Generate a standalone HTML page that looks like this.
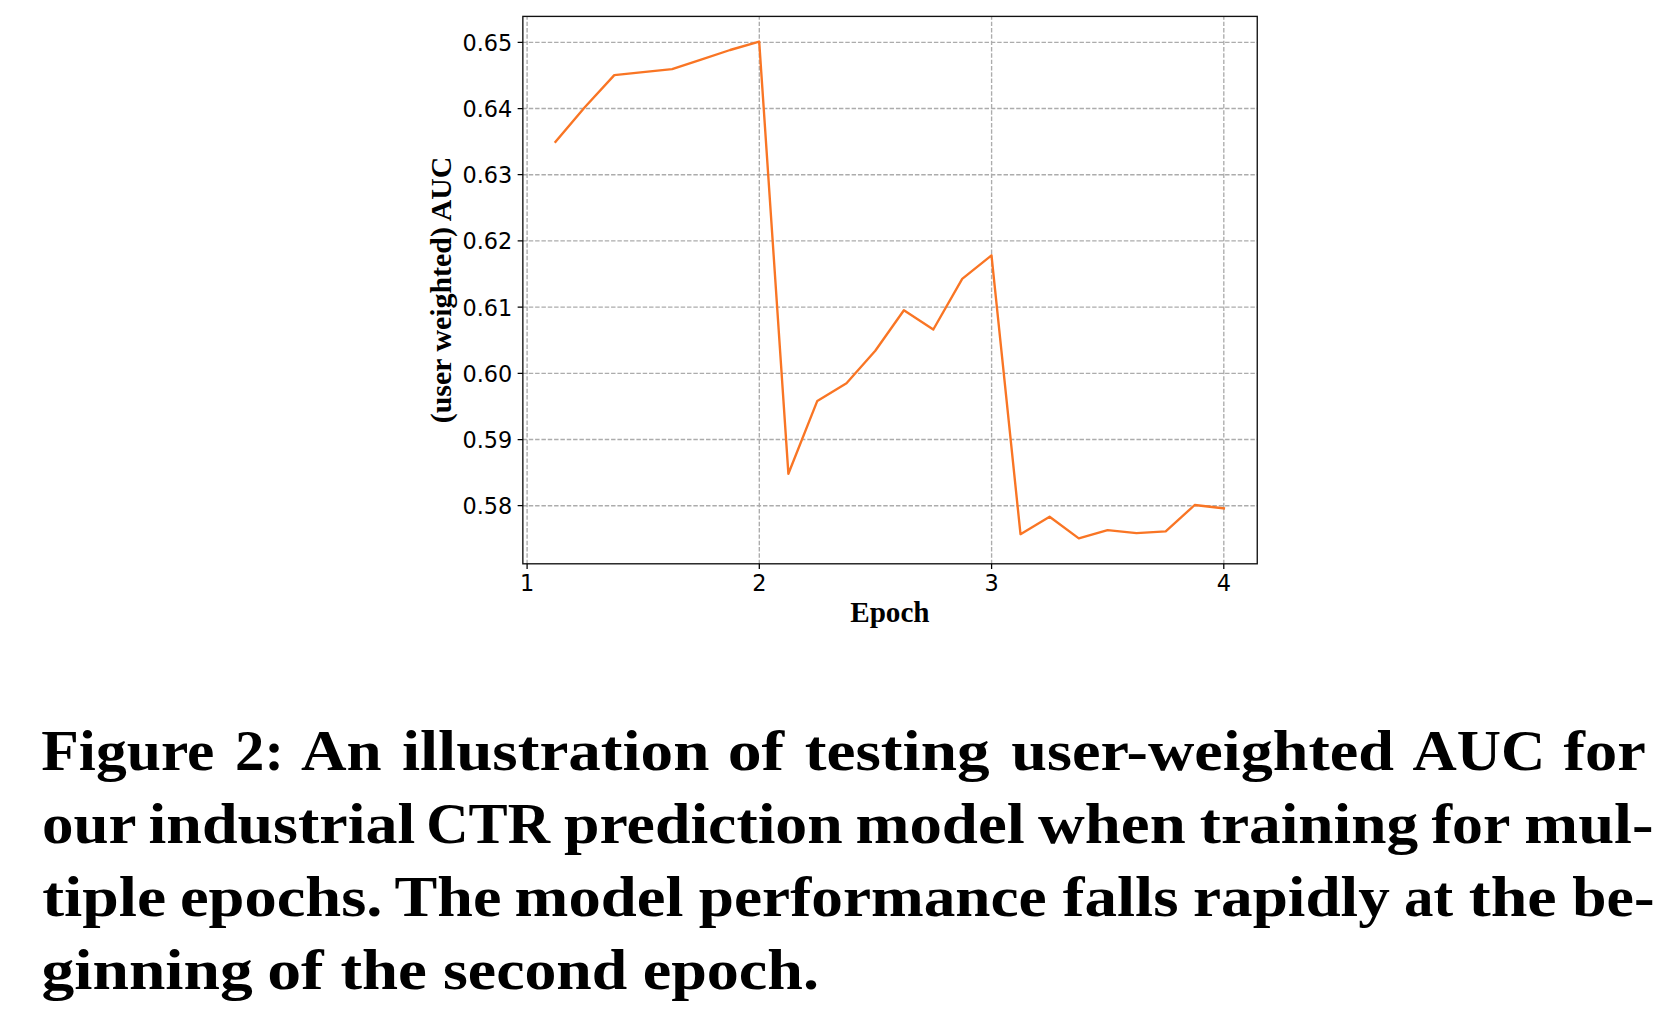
<!DOCTYPE html>
<html lang="en"><head><meta charset="utf-8"><title>Figure 2</title>
<style>html,body{margin:0;padding:0;background:#fff}svg{display:block}.tk{font-family:"DejaVu Sans","Liberation Sans",sans-serif;font-size:22.4px;fill:#000}.lb{font-family:"Liberation Serif",serif;font-weight:bold;font-size:29.3px;fill:#000}.cp{font-family:"Liberation Serif",serif;font-weight:bold;font-size:58px;fill:#000}</style></head><body>
<svg width="1678" height="1027" viewBox="0 0 1678 1027">
<rect width="1678" height="1027" fill="#fff"/>
<path d="M522.85 42.3H1257.2M522.85 108.5H1257.2M522.85 174.7H1257.2M522.85 240.9H1257.2M522.85 307.1H1257.2M522.85 373.3H1257.2M522.85 439.5H1257.2M522.85 505.7H1257.2M527.1 563.75V16.4M759.3 563.75V16.4M991.6 563.75V16.4M1223.8 563.75V16.4" fill="none" stroke="#acacac" stroke-width="1.35" stroke-dasharray="4.45 1.88" stroke-dashoffset="0.4"/>
<path d="M555.5 141.8L585.0 107.0L614.3 75.1L643.0 72.1L672.1 69.2L701.1 59.7L730.1 50.0L759.2 41.6L788.4 473.8L817.3 400.9L846.5 383.2L875.3 350.8L903.9 310.3L933.3 329.5L962.2 278.9L991.5 255.3L1020.5 534.2L1049.6 516.7L1078.8 538.4L1107.6 530.1L1136.5 533.1L1165.7 531.4L1194.7 505.0L1223.9 508.4" fill="none" stroke="#f97524" stroke-width="2.35" stroke-linejoin="round" stroke-linecap="square"/>
<rect x="522.85" y="16.4" width="734.4" height="547.4" fill="none" stroke="#111" stroke-width="1.35"/>
<path d="M522.85 42.3h-5.2M522.85 108.5h-5.2M522.85 174.7h-5.2M522.85 240.9h-5.2M522.85 307.1h-5.2M522.85 373.3h-5.2M522.85 439.5h-5.2M522.85 505.7h-5.2M527.1 563.75v5.2M759.3 563.75v5.2M991.6 563.75v5.2M1223.8 563.75v5.2" fill="none" stroke="#000" stroke-width="1.25"/>
<text class="tk" transform="translate(512.3 50.75) scale(1 1.035)" text-anchor="end">0.65</text>
<text class="tk" transform="translate(512.3 116.95) scale(1 1.035)" text-anchor="end">0.64</text>
<text class="tk" transform="translate(512.3 183.15) scale(1 1.035)" text-anchor="end">0.63</text>
<text class="tk" transform="translate(512.3 249.35) scale(1 1.035)" text-anchor="end">0.62</text>
<text class="tk" transform="translate(512.3 315.55) scale(1 1.035)" text-anchor="end">0.61</text>
<text class="tk" transform="translate(512.3 381.75) scale(1 1.035)" text-anchor="end">0.60</text>
<text class="tk" transform="translate(512.3 447.95) scale(1 1.035)" text-anchor="end">0.59</text>
<text class="tk" transform="translate(512.3 514.15) scale(1 1.035)" text-anchor="end">0.58</text>
<text class="tk" transform="translate(527.1 591.4) scale(1 1.035)" text-anchor="middle">1</text>
<text class="tk" transform="translate(759.3 591.4) scale(1 1.035)" text-anchor="middle">2</text>
<text class="tk" transform="translate(991.6 591.4) scale(1 1.035)" text-anchor="middle">3</text>
<text class="tk" transform="translate(1223.8 591.4) scale(1 1.035)" text-anchor="middle">4</text>
<text class="lb" transform="translate(889.9 621.8) scale(0.995 1.03)" text-anchor="middle">Epoch</text>
<text class="lb" transform="translate(450.9 289.9) rotate(-90) scale(1.02 1)" text-anchor="middle">(user weighted) AUC</text>
<text class="cp" x="41.3" y="770.1" textLength="173.1" lengthAdjust="spacingAndGlyphs">Figure</text>
<text class="cp" x="235.1" y="770.1" textLength="48.8" lengthAdjust="spacingAndGlyphs">2:</text>
<text class="cp" x="301.0" y="770.1" textLength="80.7" lengthAdjust="spacingAndGlyphs">An</text>
<text class="cp" x="401.9" y="770.1" textLength="307.5" lengthAdjust="spacingAndGlyphs">illustration</text>
<text class="cp" x="727.7" y="770.1" textLength="56.5" lengthAdjust="spacingAndGlyphs">of</text>
<text class="cp" x="804.8" y="770.1" textLength="184.8" lengthAdjust="spacingAndGlyphs">testing</text>
<text class="cp" x="1011.3" y="770.1" textLength="382.7" lengthAdjust="spacingAndGlyphs">user-weighted</text>
<text class="cp" x="1412.4" y="770.1" textLength="132.8" lengthAdjust="spacingAndGlyphs">AUC</text>
<text class="cp" x="1563.6" y="770.1" textLength="82.2" lengthAdjust="spacingAndGlyphs">for</text>
<text class="cp" x="42.0" y="843.1" textLength="94.5" lengthAdjust="spacingAndGlyphs">our</text>
<text class="cp" x="148.5" y="843.1" textLength="266.8" lengthAdjust="spacingAndGlyphs">industrial</text>
<text class="cp" x="426.2" y="843.1" textLength="123.8" lengthAdjust="spacingAndGlyphs">CTR</text>
<text class="cp" x="564.0" y="843.1" textLength="278.7" lengthAdjust="spacingAndGlyphs">prediction</text>
<text class="cp" x="855.4" y="843.1" textLength="169.4" lengthAdjust="spacingAndGlyphs">model</text>
<text class="cp" x="1038.0" y="843.1" textLength="147.7" lengthAdjust="spacingAndGlyphs">when</text>
<text class="cp" x="1199.8" y="843.1" textLength="218.4" lengthAdjust="spacingAndGlyphs">training</text>
<text class="cp" x="1431.5" y="843.1" textLength="78.8" lengthAdjust="spacingAndGlyphs">for</text>
<text class="cp" x="1524.3" y="843.1" textLength="129.3" lengthAdjust="spacingAndGlyphs">mul-</text>
<text class="cp" x="42.2" y="916.0" textLength="124.1" lengthAdjust="spacingAndGlyphs">tiple</text>
<text class="cp" x="179.9" y="916.0" textLength="202.6" lengthAdjust="spacingAndGlyphs">epochs.</text>
<text class="cp" x="394.5" y="916.0" textLength="106.9" lengthAdjust="spacingAndGlyphs">The</text>
<text class="cp" x="514.6" y="916.0" textLength="168.8" lengthAdjust="spacingAndGlyphs">model</text>
<text class="cp" x="698.8" y="916.0" textLength="347.9" lengthAdjust="spacingAndGlyphs">performance</text>
<text class="cp" x="1062.8" y="916.0" textLength="115.7" lengthAdjust="spacingAndGlyphs">falls</text>
<text class="cp" x="1193.0" y="916.0" textLength="196.8" lengthAdjust="spacingAndGlyphs">rapidly</text>
<text class="cp" x="1404.0" y="916.0" textLength="49.1" lengthAdjust="spacingAndGlyphs">at</text>
<text class="cp" x="1468.7" y="916.0" textLength="88.0" lengthAdjust="spacingAndGlyphs">the</text>
<text class="cp" x="1572.3" y="916.0" textLength="82.1" lengthAdjust="spacingAndGlyphs">be-</text>
<text class="cp" x="41.5" y="988.9" textLength="211.3" lengthAdjust="spacingAndGlyphs">ginning</text>
<text class="cp" x="267.2" y="988.9" textLength="56.5" lengthAdjust="spacingAndGlyphs">of</text>
<text class="cp" x="340.4" y="988.9" textLength="86.5" lengthAdjust="spacingAndGlyphs">the</text>
<text class="cp" x="443.0" y="988.9" textLength="184.3" lengthAdjust="spacingAndGlyphs">second</text>
<text class="cp" x="642.7" y="988.9" textLength="176.3" lengthAdjust="spacingAndGlyphs">epoch.</text>
</svg></body></html>
